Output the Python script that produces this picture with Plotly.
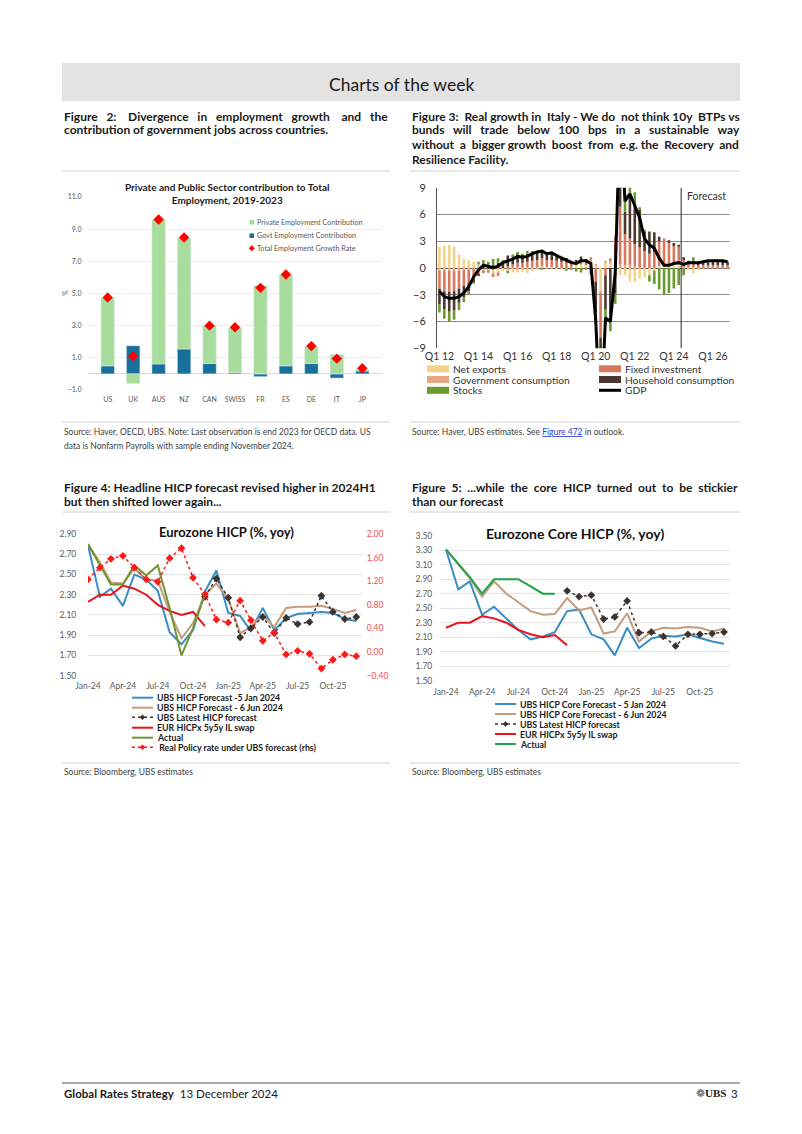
import plotly.graph_objects as go
import pandas as pd

W, H = 802, 1134
OFF = 8  # the page body margin shifts the figure by this many pixels
FONT = "Lato"
HEAD = "Lato"


def px(x):
    return (x - OFF) / W


def py(y):
    return 1 - (y - OFF) / H


# ---- Figure 2: employment contributions ----
countries = ["US", "UK", "AUS", "NZ", "CAN", "SWISS", "FR", "ES", "DE", "IT", "JP"]
private_contrib = [4.25, -0.6, 9.0, 6.9, 2.35, 2.8, 5.5, 5.7, 1.08, 1.2, 0.12]
govt_contrib = [0.5, 1.75, 0.62, 1.55, 0.65, 0.08, -0.17, 0.5, 0.65, -0.26, 0.18]
total_growth = [4.75, 1.1, 9.6, 8.48, 3.0, 2.9, 5.35, 6.18, 1.73, 0.95, 0.35]

# ---- Figure 3: Italy real growth contributions (Q1 12 .. Q4 26) ----
quarters = [f"Q{q} {yy:02d}" for yy in range(12, 27) for q in range(1, 5)]
quarter_ticks = ["Q1 12", "Q1 14", "Q1 16", "Q1 18", "Q1 20", "Q1 22", "Q1 24", "Q1 26"]
net_exports = [2.4, 2.5, 2.6, 2.4, 1.5, 1.0, 0.9, 0.7, 0.4, -0.3, -0.3, -0.6,
               -0.5, -0.3, -0.4, -0.5, -0.5, -0.4, -0.6, -0.3, -0.1, 0.2, 0.1, 0.1,
               -0.1, -0.2, -0.1, 0.1, 0.3, 0.4, 0.3, 0.8, 0.3, -2.5, 0.5, 0.5,
               0.7, -0.8, -0.8, -1.5, -1.5, -1.2, -1.0, -0.8, -0.3, 0.2, 0.3, 0.3,
               0.5, 0.8, 0.0, -0.2, -0.6, -0.1, 0.0, 0.0, 0.0, 0.0, 0.0, 0.0]
govt_consumption = [-0.3, -0.3, -0.3, -0.3, -0.3, -0.2, -0.2, -0.1, -0.1, -0.1, -0.1, -0.1,
                    -0.1, 0.0, 0.0, 0.1, 0.1, 0.1, 0.1, 0.1, 0.1, 0.1, 0.0, 0.0,
                    0.0, 0.0, 0.0, 0.0, 0.0, 0.0, 0.0, 0.1, 0.1, -0.3, 0.3, 0.2,
                    0.3, 0.4, 0.3, 0.3, 0.2, 0.1, 0.1, 0.0, 0.0, 0.0, 0.0, 0.0,
                    0.0, 0.0, 0.1, 0.1, 0.1, 0.1, 0.1, 0.1, 0.1, 0.1, 0.1, 0.1]
fixed_investment = [-2.0, -2.3, -2.4, -2.3, -2.0, -1.8, -1.5, -1.1, -0.6, -0.2, -0.1, -0.3,
                    -0.3, 0.0, 0.2, 0.3, 0.5, 0.5, 0.6, 0.7, 0.8, 0.8, 0.8, 0.8,
                    0.8, 0.7, 0.6, 0.5, 0.4, 0.5, 0.4, 0.3, -1.5, -5.0, -0.8, 0.4,
                    2.5, 6.5, 3.5, 3.0, 2.5, 2.2, 1.8, 1.6, 1.8, 2.8, 3.0, 2.6,
                    2.1, 1.6, 0.8, 0.3, 0.3, 0.2, 0.2, 0.2, 0.2, 0.2, 0.2, 0.2]
household_consumption = [-1.8, -2.0, -2.2, -2.2, -1.6, -1.3, -0.9, -0.4, -0.2, 0.2, 0.2, 0.4,
                         0.6, 0.7, 1.2, 0.7, 1.0, 0.9, 0.9, 0.9, 0.9, 0.9, 0.7, 0.8,
                         0.5, 0.5, 0.5, 0.2, 0.2, 0.4, 0.3, -0.3, -3.5, -8.0, -3.8, -5.2,
                         -2.9, 9.5, 2.5, 5.0, 4.5, 4.2, 2.2, 2.5, 2.2, 0.5, 0.0, 0.2,
                         0.2, 0.1, 0.3, 0.4, 0.4, 0.4, 0.4, 0.5, 0.5, 0.5, 0.5, 0.4]
stocks = [-0.9, -1.1, -1.1, -1.0, -0.8, -0.5, -0.4, -0.1, 0.3, 0.7, 0.5, 0.6,
          0.5, 0.2, -0.2, 0.4, 0.2, 0.1, 0.3, 0.2, 0.1, -0.1, 0.0, 0.0,
          0.2, 0.1, -0.1, -0.2, -0.4, -0.5, -0.2, -0.4, -1.2, -2.2, -1.8, -1.9,
          -1.1, 1.9, 2.0, 1.5, 1.3, 0.3, 0.2, -0.7, -1.5, -2.4, -3.0, -2.8,
          -2.3, -1.9, -0.8, 0.0, 0.4, 0.0, 0.0, 0.0, 0.0, 0.0, 0.0, 0.0]
gdp = [-2.6, -3.2, -3.4, -3.4, -3.2, -2.8, -2.1, -1.0, -0.2, 0.3, 0.2, 0.0,
       0.2, 0.6, 0.8, 1.0, 1.3, 1.2, 1.3, 1.6, 1.8, 1.9, 1.6, 1.7,
       1.4, 1.1, 0.9, 0.6, 0.5, 0.8, 0.8, 0.5, -5.8, -18.0, -5.6, -6.0,
       -0.5, 17.5, 7.5, 8.3, 7.0, 5.6, 3.3, 2.6, 2.2, 1.1, 0.3, 0.3,
       0.5, 0.6, 0.4, 0.6, 0.6, 0.6, 0.7, 0.8, 0.8, 0.8, 0.8, 0.7]
forecast_start = 49.5  # between Q2 24 and Q3 24

# ---- Figures 4 and 5: Eurozone HICP ----
months = pd.date_range("2024-01-01", "2025-12-01", freq="MS")
month_ticks = pd.date_range("2024-01-01", "2025-10-01", freq="3MS")

hicp_jan = [2.79, 2.28, 2.36, 2.19, 2.50, 2.45, 2.34, 1.93, 1.81, 1.95, 2.33, 2.54,
            2.12, 2.09, 1.94, 2.17, 1.95, 2.07, 2.11, 2.12, 2.13, 2.12, 2.06, 2.04]
hicp_jun = [2.80, 2.62, 2.42, 2.41, 2.56, 2.45, 2.44, 2.13, 1.87, 2.02, 2.30, 2.41,
            2.26, 1.92, 1.98, 2.10, 1.98, 2.17, 2.18, 2.18, 2.19, 2.16, 2.12, 2.15]
hicp_latest = [None] * 10 + [2.28, 2.46, 2.27, 1.88, 1.97, 2.08, 1.92, 2.07, 2.01, 2.03,
                             2.29, 2.13, 2.06, 2.08]
il_swap = [2.23, 2.30, 2.30, 2.39, 2.36, 2.30, 2.20, 2.14, 2.10, 2.13, 1.99] + [None] * 13
hicp_actual = [2.80, 2.59, 2.40, 2.40, 2.59, 2.49, 2.59, 2.17, 1.70, 1.97, 2.30] + [None] * 13
real_policy = [1.23, 1.43, 1.58, 1.63, 1.43, 1.23, 1.19, 1.59, 1.76, 1.26, 0.98, 0.55,
               0.50, 0.87, 0.54, 0.19, 0.33, -0.04, 0.02, -0.03, -0.28, -0.13, -0.04, -0.07]

core_jan = [3.31, 2.76, 2.87, 2.41, 2.52, 2.36, 2.20, 2.07, 2.11, 2.17, 2.46, 2.48,
            2.14, 2.07, 1.85, 2.23, 1.95, 2.08, 2.12, 2.11, 2.14, 2.09, 2.04, 2.01]
core_jun = [3.31, 3.10, 2.91, 2.66, 2.87, 2.70, 2.58, 2.46, 2.41, 2.42, 2.64, 2.47,
            2.51, 2.15, 2.18, 2.43, 2.04, 2.18, 2.23, 2.22, 2.24, 2.23, 2.18, 2.22]
core_latest = [None] * 10 + [2.74, 2.66, 2.68, 2.35, 2.38, 2.60, 2.16, 2.17, 2.11, 1.98,
                             2.14, 2.14, 2.15, 2.17]
core_actual = [3.31, 3.12, 2.93, 2.70, 2.90, 2.90, 2.90, 2.80, 2.70, 2.70] + [None] * 14

C_BLUE = "#3a8dc4"
C_TAN = "#c29d7d"
C_DARK = "#3d3430"
C_RED = "#e8141c"
C_OLIVE = "#6f9434"
C_GREEN = "#1fa34a"

fig = go.Figure()

# Figure 2 traces
fig.add_trace(go.Bar(x=countries, y=govt_contrib, marker_color="#17709c",
                     xaxis="x", yaxis="y", showlegend=False))
fig.add_trace(go.Bar(x=countries, y=private_contrib, marker_color="#a8dc9c",
                     xaxis="x", yaxis="y", showlegend=False))
fig.add_trace(go.Scatter(x=countries, y=total_growth, mode="markers",
                         marker=dict(symbol="diamond", size=8, color="#ff0000"),
                         xaxis="x", yaxis="y", showlegend=False))

# Figure 3 traces
components = [
    (net_exports, "#f1d486"),
    (govt_consumption, "#e6a780"),
    (fixed_investment, "#d9775c"),
    (household_consumption, "#4b372d"),
    (stocks, "#6a9a2e"),
]
for vals, col in components:
    fig.add_trace(go.Bar(x=quarters, y=vals, marker=dict(color=col, line=dict(width=0)),
                         xaxis="x2", yaxis="y2", showlegend=False))
fig.add_trace(go.Scatter(x=quarters, y=gdp, mode="lines", line=dict(color="black", width=3),
                         xaxis="x2", yaxis="y2", showlegend=False))

# Figure 4 traces
fig.add_trace(go.Scatter(x=months, y=hicp_jan, mode="lines", line=dict(color=C_BLUE, width=2),
                         xaxis="x3", yaxis="y3", showlegend=False))
fig.add_trace(go.Scatter(x=months, y=hicp_jun, mode="lines", line=dict(color=C_TAN, width=2),
                         xaxis="x3", yaxis="y3", showlegend=False))
fig.add_trace(go.Scatter(x=months, y=hicp_latest, mode="lines+markers",
                         line=dict(color=C_DARK, width=1.5, dash="dot"),
                         marker=dict(symbol="diamond", size=6, color=C_DARK),
                         xaxis="x3", yaxis="y3", showlegend=False))
fig.add_trace(go.Scatter(x=months, y=il_swap, mode="lines", line=dict(color=C_RED, width=2),
                         xaxis="x3", yaxis="y3", showlegend=False))
fig.add_trace(go.Scatter(x=months, y=hicp_actual, mode="lines", line=dict(color=C_OLIVE, width=2),
                         xaxis="x3", yaxis="y3", showlegend=False))
fig.add_trace(go.Scatter(x=months, y=real_policy, mode="lines+markers",
                         line=dict(color="#ff1a1a", width=1.5, dash="dot"),
                         marker=dict(symbol="diamond", size=6, color="#ff1a1a"),
                         xaxis="x3", yaxis="y4", showlegend=False))

# Figure 5 traces
fig.add_trace(go.Scatter(x=months, y=core_jan, mode="lines", line=dict(color=C_BLUE, width=2),
                         xaxis="x4", yaxis="y5", showlegend=False))
fig.add_trace(go.Scatter(x=months, y=core_jun, mode="lines", line=dict(color=C_TAN, width=2),
                         xaxis="x4", yaxis="y5", showlegend=False))
fig.add_trace(go.Scatter(x=months, y=core_latest, mode="lines+markers",
                         line=dict(color=C_DARK, width=1.5, dash="dot"),
                         marker=dict(symbol="diamond", size=6, color=C_DARK),
                         xaxis="x4", yaxis="y5", showlegend=False))
fig.add_trace(go.Scatter(x=months, y=il_swap, mode="lines", line=dict(color=C_RED, width=2),
                         xaxis="x4", yaxis="y5", showlegend=False))
fig.add_trace(go.Scatter(x=months, y=core_actual, mode="lines", line=dict(color=C_GREEN, width=2),
                         xaxis="x4", yaxis="y5", showlegend=False))

# ---- page decoration ----
shapes = []
annotations = []


def hline(x0, x1, y, color="#d4d4d4", width=1, dash="solid"):
    shapes.append(dict(type="line", xref="paper", yref="paper", x0=px(x0), x1=px(x1),
                       y0=py(y), y1=py(y), line=dict(color=color, width=width, dash=dash)))


def box(x0, y0, x1, y1, color):
    shapes.append(dict(type="rect", xref="paper", yref="paper", x0=px(x0), x1=px(x1),
                       y0=py(y1), y1=py(y0), fillcolor=color, line=dict(width=0)))


def diamond(cx, cy, r, color):
    path = (f"M {px(cx - r)},{py(cy)} L {px(cx)},{py(cy - r)} "
            f"L {px(cx + r)},{py(cy)} L {px(cx)},{py(cy + r)} Z")
    shapes.append(dict(type="path", xref="paper", yref="paper", path=path,
                       fillcolor=color, line=dict(width=0)))


def text(x, y, s, size, color="#222222", family=FONT, xanchor="left", **kw):
    annotations.append(dict(x=px(x), y=py(y), xref="paper", yref="paper", text=s,
                            showarrow=False, xanchor=xanchor, yanchor="middle",
                            font=dict(size=size, color=color, family=family), **kw))


def spread(line, extra):
    # widen the gaps between words, a rough stand-in for justified text
    words = line.split(" ")
    gaps = len(words) - 1
    out = words[0]
    for i in range(gaps):
        n = round((i + 1) * extra / gaps) - round(i * extra / gaps)
        out += " " + "\u00a0" * n + words[i + 1]
    return out


# header
box(62, 63, 740, 101, "#e3e3e3")
text(401, 84, "Charts of the week", 17.5, "#1a1a1a", HEAD, xanchor="center")

# figure titles
ts = 12
titles = [
    (62, 116, "Figure 2: Divergence in employment growth and the", 16),
    (62, 130, "contribution of government jobs across countries.", 0),
    (410, 116, "Figure 3: Real growth in Italy - We do not think 10y BTPs vs", 4),
    (410, 130, "bunds will trade below 100 bps in a sustainable way", 18),
    (410, 145, "without a bigger growth boost from e.g. the Recovery and", 7),
    (410, 159, "Resilience Facility.", 0),
    (62, 487, "Figure 4: Headline HICP forecast revised higher in 2024H1", 0),
    (62, 501, "but then shifted lower again...", 0),
    (410, 487, "Figure 5: ...while the core HICP turned out to be stickier", 10),
    (410, 501, "than our forecast", 0),
]
for x, y, line, extra in titles:
    text(x, y, "<b>" + spread(line, extra) + "</b>", ts, "#1a1a1a", HEAD)

for y in (171, 422, 512, 763):
    hline(62, 390, y)
    hline(410, 740, y)

# sources
src = "#404040"
text(62, 432, "Source: Haver, OECD, UBS. Note: Last observation is end 2023 for OECD data. US", 8.5, src)
text(62, 446, "data is Nonfarm Payrolls with sample ending November 2024.", 8.5, src)
text(410, 432, "Source: Haver, UBS estimates. See <span style='color:#2a3fd6;text-decoration:underline'>"
     "Figure 472</span> in outlook.", 8.5, src)
text(62, 772, "Source: Bloomberg, UBS estimates", 8.5, src)
text(410, 772, "Source: Bloomberg, UBS estimates", 8.5, src)

# footer
hline(62, 740, 1083, "#555555", 1)
text(62, 1093, "<b>Global Rates Strategy</b>  13 December 2024", 11.5, "#1a1a1a", HEAD)
text(728, 1093, "<b>UBS</b>", 11, "#1a1a1a", "Liberation Serif", xanchor="right")
text(740, 1093, "3", 11.5, "#1a1a1a", HEAD, xanchor="right")
text(707, 1093, "\u2741", 11, "#555555", "DejaVu Sans", xanchor="right")

# Figure 2 chart text + legend
text(227, 194, "<b>Private and Public Sector contribution to Total<br>Employment, 2019-2023</b>",
     10, "#1a1a1a", xanchor="center")
text(65, 293, "%", 7, "#595959", xanchor="center", textangle=-90)
leg2 = [("#a8dc9c", "Private Employment Contribution", 222.3, "sq"),
        ("#17709c", "Govt Employment Contribution", 235.7, "sq"),
        ("#ff0000", "Total Employment Growth Rate", 248.3, "dia")]
for col, lab, y, kind in leg2:
    if kind == "sq":
        box(249.5, y - 2.3, 254, y + 2.3, col)
    else:
        diamond(251.8, y, 3, col)
    text(255, y, lab, 7.2, "#595959")

# Figure 3 legend + forecast marker
shapes.append(dict(type="line", xref="x2", yref="y2", x0=forecast_start, x1=forecast_start,
                   y0=-9, y1=9, line=dict(color="#222222", width=1)))
text(728, 196, "Forecast", 10.5, "#333333", xanchor="right")
leg3 = [(427, 368.8, "#f1d486", "Net exports"),
        (599, 368.8, "#d9775c", "Fixed investment"),
        (427, 379.5, "#e6a780", "Government consumption"),
        (599, 379.5, "#4b372d", "Household consumption"),
        (427, 390.3, "#6a9a2e", "Stocks")]
for x0, y, col, lab in leg3:
    box(x0, y - 3.5, x0 + 22, y + 3.5, col)
    text(x0 + 24, y, lab, 10.2, "#333333")
hline(599, 621, 390.3, "black", 3)
text(623, 390.3, "GDP", 10.2, "#333333")

# Figure 4 chart title + legend
text(227, 532, "<b>Eurozone HICP (%, yoy)</b>", 13, "#111111", xanchor="center")
leg4 = [(697.7, C_BLUE, "solid", None, "UBS HICP Forecast -5 Jan 2024"),
        (707.7, C_TAN, "solid", None, "UBS HICP Forecast - 6 Jun 2024"),
        (717.3, C_DARK, "dot", C_DARK, "UBS Latest HICP forecast"),
        (727.7, C_RED, "solid", None, "EUR HICPx 5y5y IL swap"),
        (737.7, C_OLIVE, "solid", None, "Actual"),
        (747.3, "#ff1a1a", "dot", "#ff1a1a", " Real Policy rate under UBS forecast (rhs)")]
for y, col, dash, mk, lab in leg4:
    hline(132, 153, y, col, 2 if dash == "solid" else 1.5, dash)
    if mk:
        diamond(142.5, y, 2.8, mk)
    text(155, y, f"<b>{lab}</b>", 8.8, "#1a1a1a")

# Figure 5 chart title + legend
text(575, 533, "<b>Eurozone Core HICP (%, yoy)</b>", 14, "#111111", xanchor="center")
leg5 = [(704, C_BLUE, "solid", None, "UBS HICP Core Forecast - 5 Jan 2024"),
        (714, C_TAN, "solid", None, "UBS HICP Core Forecast - 6 Jun 2024"),
        (724, C_DARK, "dot", C_DARK, "UBS Latest HICP forecast"),
        (734, C_RED, "solid", None, "EUR HICPx 5y5y IL swap"),
        (744, C_GREEN, "solid", None, "Actual")]
for y, col, dash, mk, lab in leg5:
    hline(495, 516, y, col, 2 if dash == "solid" else 1.5, dash)
    if mk:
        diamond(505.5, y, 2.8, mk)
    text(518, y, f"<b>{lab}</b>", 8.8, "#1a1a1a")

tick_grey = "#595959"
clear = "rgba(0,0,0,0)"
fig.update_layout(
    width=W, height=H,
    margin=dict(l=0, r=0, t=0, b=0, autoexpand=False),
    paper_bgcolor="white", plot_bgcolor="white",
    font=dict(family=FONT, color=tick_grey),
    barmode="relative", bargap=0.47,
    showlegend=False,
    xaxis=dict(domain=[px(88), px(382)], anchor="y", type="category", showgrid=False,
               showline=False, ticks="outside", ticklen=3, tickcolor=clear, automargin=False,
               tickfont=dict(size=7, color=tick_grey)),
    yaxis=dict(domain=[py(390), py(197)], anchor="x", range=[-1, 11], tick0=-1, dtick=2,
               tickformat=".1f", gridcolor="#ededed", zeroline=True, zerolinecolor="#d9d9d9",
               zerolinewidth=1, showline=False, ticks="outside", ticklen=4, tickcolor=clear,
               automargin=False, tickfont=dict(size=7, color=tick_grey)),
    xaxis2=dict(domain=[px(437), px(730)], anchor="y2", type="category",
                categoryorder="array", categoryarray=quarters, range=[-0.5, 59.5],
                tickmode="array", tickvals=quarter_ticks, ticktext=quarter_ticks,
                showgrid=False, ticks="", automargin=False,
                tickfont=dict(size=10.5, color="#333333")),
    yaxis2=dict(domain=[py(348.3), py(187.7)], anchor="x2", range=[-9, 9], tick0=0, dtick=3,
                gridcolor="#8c8c8c", gridwidth=1, zeroline=True, zerolinecolor="#555555",
                zerolinewidth=1, showline=True, linecolor="#555555", linewidth=1,
                ticks="outside", ticklen=8, tickcolor=clear, automargin=False,
                tickfont=dict(size=11, color="#333333")),
    xaxis3=dict(domain=[px(88), px(362)], anchor="y3", type="date",
                range=["2024-01-01", "2025-12-16"], tickmode="array", tickvals=month_ticks,
                tickformat="%b-%y", ticks="outside", ticklen=2, tickcolor=clear,
                showgrid=False, showline=False, automargin=False,
                tickfont=dict(size=8.5, color=tick_grey)),
    yaxis3=dict(domain=[py(675.7), py(534)], anchor="x3", range=[1.5, 2.9], tick0=1.5,
                dtick=0.2, tickformat=".2f", gridcolor="#e3e3e3", zeroline=False,
                ticks="outside", ticklen=9, tickcolor=clear, automargin=False,
                tickfont=dict(size=8.5, color=tick_grey)),
    yaxis4=dict(overlaying="y3", side="right", anchor="x3", range=[-0.4, 2.0], tick0=-0.4,
                dtick=0.4, tickformat=".2f", showgrid=False, zeroline=False, ticks="outside",
                ticklen=2, tickcolor=clear, automargin=False,
                tickfont=dict(size=8.5, color="#f0505a")),
    xaxis4=dict(domain=[px(440), px(730)], anchor="y5", type="date",
                range=["2023-12-17", "2025-12-16"], tickmode="array", tickvals=month_ticks,
                tickformat="%b-%y", ticks="outside", ticklen=3, tickcolor=clear,
                showgrid=False, showline=False, automargin=False,
                tickfont=dict(size=8.5, color=tick_grey)),
    yaxis5=dict(domain=[py(680.7), py(535.7)], anchor="x4", range=[1.5, 3.5], tick0=1.5,
                dtick=0.2, tickformat=".2f", gridcolor="#e3e3e3", zeroline=False,
                ticks="outside", ticklen=5, tickcolor=clear, automargin=False,
                tickfont=dict(size=8.5, color=tick_grey)),
    shapes=shapes,
    annotations=annotations,
)

fig.write_html("out.html")
